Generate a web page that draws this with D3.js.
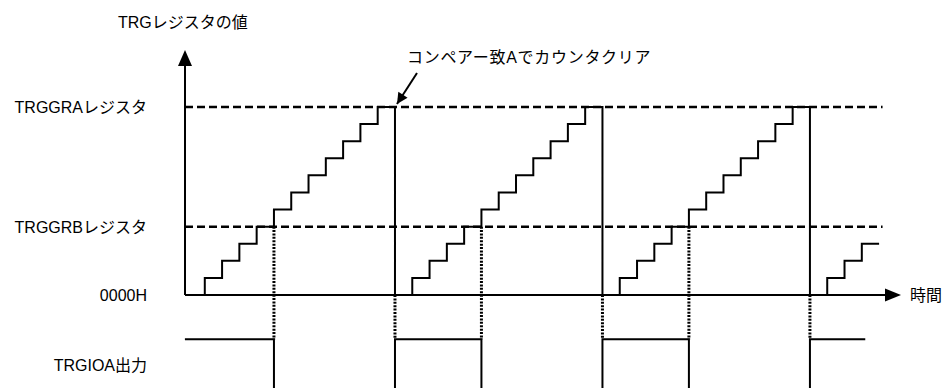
<!DOCTYPE html>
<html>
<head>
<meta charset="utf-8">
<script src="https://cdn.jsdelivr.net/npm/d3@7"></script>
<style>
    body { margin: 0; background: #fff; }
    text { font-family: "Liberation Sans", "Noto Sans CJK JP", sans-serif; font-size: 16px; fill: #000; }
    .note { letter-spacing: 0.7px; }
</style>
</head>
<body>
<div id="chart"></div>
<script>

// counter value for each count-source tick (index = tick number)
const counts = [0, 1, 2, 3, 4, 5, 6, 7, 8, 9, 10, 11,
                0, 1, 2, 3, 4, 5, 6, 7, 8, 9, 10, 11,
                0, 1, 2, 3, 4, 5, 6, 7, 8, 9, 10, 11,
                0, 1, 2, 3]

// register compare levels
const registerLabels = ['TRGGRAレジスタ', 'TRGGRBレジスタ']
const registerValues = [11, 4]

// tick where compare match A clears the counter / match B toggles output
const clearTicks = [12, 24, 36]
const matchBTicks = [5, 17, 29]

// TRGIOA output level changes
const outputTicks = [-0.15, 5, 12, 17, 24, 29, 36, 39.2]
const outputValues = [1, 0, 1, 0, 1, 0, 1, 1]

const yTitle = 'TRGレジスタの値'
const xTitle = '時間'
const zeroLabel = '0000H'
const outputLabel = 'TRGIOA出力'
const noteText = 'コンペアー致Aでカウンタクリア'


class TimingChart {

    constructor(parentElement) {
        this.parentElement = parentElement;
        this.initVis()
    }

    initVis() {
        let vis = this;

        vis.width = 944;
        vis.height = 388;

        vis.svg = d3.select("#" + vis.parentElement).append("svg")
            .attr("width", vis.width)
            .attr("height", vis.height);

        // scales
        vis.x = d3.scaleLinear().domain([0, 40]).range([187.5, 879.1]);
        vis.y = d3.scaleLinear().domain([0, 11]).range([295, 107]);
        vis.yOut = d3.scaleLinear().domain([0, 1]).range([430, 339.3]);

        vis.axisX = 185;
        vis.axisY = vis.y(0);

        vis.svg.append('defs')
            .append('marker')
            .attr('id', 'noteArrow')
            .attr('markerUnits', 'userSpaceOnUse')
            .attr('viewBox', '0 0 10 10')
            .attr('refX', 10)
            .attr('refY', 5)
            .attr('markerWidth', 13)
            .attr('markerHeight', 11)
            .attr('orient', 'auto')
            .append('path')
            .attr('d', 'M0,0 L10,5 L0,10 z')
            .attr('fill', '#000');

        // dashed register levels
        vis.svg.selectAll('.reg-line').data(registerValues)
            .enter()
            .append('line')
            .attr('class', 'reg-line')
            .attr('x1', vis.axisX)
            .attr('x2', vis.x(40.2))
            .attr('y1', d => vis.y(d))
            .attr('y2', d => vis.y(d))
            .attr('stroke', '#000')
            .attr('stroke-width', 2.5)
            .attr('stroke-dasharray', '8,4');

        vis.svg.selectAll('.reg-label').data(registerLabels)
            .enter()
            .append('text')
            .attr('class', 'reg-label')
            .attr('x', 147)
            .attr('y', (d, i) => vis.y(registerValues[i]) + 6)
            .style('text-anchor', 'end')
            .text(d => d);

        // dotted links down to the output waveform
        vis.svg.selectAll('.clear-dot').data(clearTicks)
            .enter()
            .append('line')
            .attr('x1', d => vis.x(d))
            .attr('x2', d => vis.x(d))
            .attr('y1', vis.axisY)
            .attr('y2', vis.yOut(1))
            .attr('stroke', '#000')
            .attr('stroke-width', 3)
            .attr('stroke-dasharray', '2,1.4');

        vis.svg.selectAll('.match-dot').data(matchBTicks)
            .enter()
            .append('line')
            .attr('x1', d => vis.x(d))
            .attr('x2', d => vis.x(d))
            .attr('y1', vis.y(registerValues[1]))
            .attr('y2', vis.yOut(1))
            .attr('stroke', '#000')
            .attr('stroke-width', 3)
            .attr('stroke-dasharray', '2,1.4');

        // counter staircase
        let pts = counts.map((v, i) => ({t: i, v: v}));
        pts.push({t: counts.length, v: counts[counts.length - 1]});

        let stepLine = d3.line()
            .x(d => vis.x(d.t))
            .y(d => vis.y(d.v))
            .curve(d3.curveStepAfter);

        vis.svg.append('path')
            .datum(pts)
            .attr('d', stepLine)
            .attr('fill', 'none')
            .attr('stroke', '#000')
            .attr('stroke-width', 2);

        // output waveform
        let outLine = d3.line()
            .x(d => vis.x(d.t))
            .y(d => vis.yOut(d.v))
            .curve(d3.curveStepAfter);

        vis.svg.append('path')
            .datum(outputTicks.map((t, i) => ({t: t, v: outputValues[i]})))
            .attr('d', outLine)
            .attr('fill', 'none')
            .attr('stroke', '#000')
            .attr('stroke-width', 2);

        // axes
        vis.svg.append('line')
            .attr('x1', vis.axisX).attr('x2', vis.axisX)
            .attr('y1', vis.axisY).attr('y2', 66)
            .attr('stroke', '#000').attr('stroke-width', 2);
        vis.svg.append('path')
            .attr('d', `M${vis.axisX},50 L${vis.axisX - 7},66 L${vis.axisX + 7},66 Z`)
            .attr('fill', '#000');

        vis.svg.append('line')
            .attr('x1', vis.axisX).attr('x2', 885)
            .attr('y1', vis.axisY).attr('y2', vis.axisY)
            .attr('stroke', '#000').attr('stroke-width', 2);
        vis.svg.append('path')
            .attr('d', `M901,${vis.axisY} L885,${vis.axisY - 6.5} L885,${vis.axisY + 6.5} Z`)
            .attr('fill', '#000');

        // texts
        vis.svg.append('text')
            .attr('x', 118).attr('y', 27.5)
            .text(yTitle);

        vis.svg.append('text')
            .attr('x', 910).attr('y', 301)
            .text(xTitle);

        vis.svg.append('text')
            .attr('x', 147).attr('y', 301)
            .style('text-anchor', 'end')
            .text(zeroLabel);

        vis.svg.append('text')
            .attr('x', 147).attr('y', 371)
            .style('text-anchor', 'end')
            .text(outputLabel);

        vis.svg.append('text')
            .attr('class', 'note')
            .attr('x', 407).attr('y', 63)
            .text(noteText);

        vis.svg.append('line')
            .attr('x1', 417).attr('y1', 73)
            .attr('x2', vis.x(clearTicks[0]) + 2).attr('y2', vis.y(registerValues[0]) - 3)
            .attr('stroke', '#000')
            .attr('stroke-width', 2)
            .attr('marker-end', 'url(#noteArrow)');
    }
}

new TimingChart('chart');
</script>
</body>
</html>
